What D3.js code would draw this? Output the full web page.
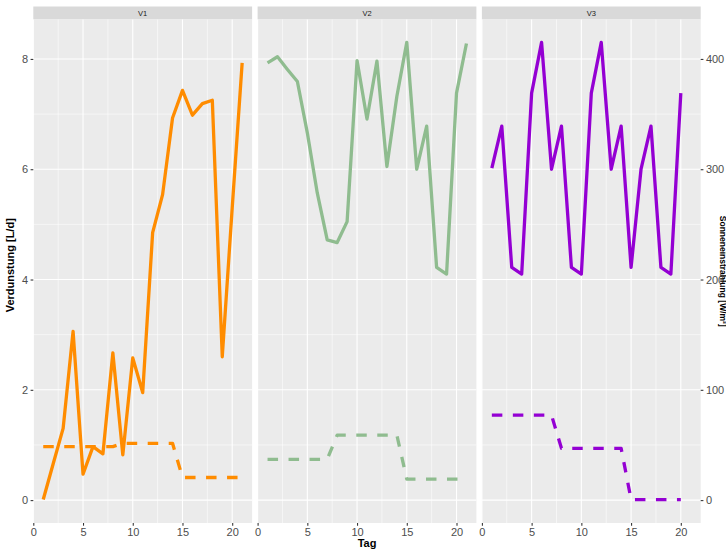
<!DOCTYPE html>
<html><head><meta charset="utf-8">
<script src="https://cdn.jsdelivr.net/npm/d3@7"></script>
<style>body{margin:0;background:#fff}svg{display:block}text{font-family:"Liberation Sans",Arial,sans-serif}</style>
</head><body>
<svg id="c" width="726" height="549"></svg>
<script>
const days = d3.range(1, 22);
const panels = ["V1", "V2", "V3"];
const colors = ["#FF8C00", "#8FBC8F", "#9400D3"];
// Verdunstung [L/d] (solid)
const v1Evap = [0.01, 0.66, 1.30, 3.06, 0.47, 0.97, 0.84, 2.67, 0.82, 2.58, 1.95, 4.85, 5.54, 6.93, 7.43, 6.98, 7.19, 7.25, 2.60, 5.30, 7.93];
const v2Evap = [7.93, 8.04, 7.81, 7.59, 6.66, 5.57, 4.72, 4.67, 5.05, 7.97, 6.91, 7.96, 6.05, 7.32, 8.30, 6.00, 6.78, 4.22, 4.10, 7.38, 8.28];
const v3Evap = [6.02, 6.78, 4.22, 4.10, 7.38, 8.30, 6.00, 6.78, 4.22, 4.10, 7.38, 8.30, 6.00, 6.78, 4.22, 6.00, 6.78, 4.22, 4.10, 7.38];
// Sonneneinstrahlung [W/m2] (dashed, secondary axis = primary * 50)
const v1Rad = [48.5, 48.5, 48.5, 48.5, 48.5, 48.5, 48.5, 48.5, 51.5, 51.5, 51.5, 51.5, 51.5, 51.5, 20.5, 20.5, 20.5, 20.5, 20.5, 20.5, 20.5];
const v2Rad = [37, 37, 37, 37, 37, 37, 37, 59, 59, 59, 59, 59, 59, 59, 19, 19, 19, 19, 19, 19, 19];
const v3Rad = [77, 77, 77, 77, 77, 77, 77, 47, 47, 47, 47, 47, 47, 47, 0.5, 0.5, 0.5, 0.5, 0.5, 0.5];
const xTicks = [0, 5, 10, 15, 20];
const yTicks = [0, 2, 4, 6, 8];
const y2Ticks = [0, 100, 200, 300, 400];
const secFactor = 50;

const evap = [v1Evap, v2Evap, v3Evap];
const rad = [v1Rad, v2Rad, v3Rad];

const svg = d3.select("#c");
const left = 33.3, right = 700.7, gap = 5.5;
const pw = (right - left - 2 * gap) / 3;
const stripTop = 6.5, panelTop = 19.5, panelBottom = 523;

const y = d3.scaleLinear().domain([-0.415, 8.715]).range([panelBottom, panelTop]);
const y2 = d3.scaleLinear().domain([-0.415 * secFactor, 8.715 * secFactor]).range([panelBottom, panelTop]);

function styleAxis(a) {
  a.select(".domain").remove();
  a.selectAll("line").attr("stroke", "#333333").attr("stroke-width", 1.07);
  a.selectAll("text").attr("font-size", 11).attr("fill", "#4D4D4D").attr("font-family", "Liberation Sans, Arial, sans-serif");
}

panels.forEach((name, i) => {
  const x0 = left + i * (pw + gap);
  const x = d3.scaleLinear().domain([0, 22]).range([x0, x0 + pw]);
  const g = svg.append("g");
  g.append("rect").attr("x", x0).attr("y", stripTop).attr("width", pw).attr("height", panelTop - stripTop).attr("fill", "#D9D9D9");
  g.append("text").attr("x", x0 + pw / 2).attr("y", stripTop + 9.5).attr("text-anchor", "middle")
    .attr("font-size", 7.5).attr("fill", "#1A1A1A").text(name);
  g.append("rect").attr("x", x0).attr("y", panelTop).attr("width", pw).attr("height", panelBottom - panelTop).attr("fill", "#EBEBEB");
  [1, 3, 5, 7].forEach(v => g.append("line").attr("x1", x0).attr("x2", x0 + pw).attr("y1", y(v)).attr("y2", y(v)).attr("stroke", "#fff").attr("stroke-width", 0.55));
  [2.5, 7.5, 12.5, 17.5].forEach(v => g.append("line").attr("x1", x(v)).attr("x2", x(v)).attr("y1", panelTop).attr("y2", panelBottom).attr("stroke", "#fff").attr("stroke-width", 0.55));
  yTicks.forEach(v => g.append("line").attr("x1", x0).attr("x2", x0 + pw).attr("y1", y(v)).attr("y2", y(v)).attr("stroke", "#fff").attr("stroke-width", 1.1));
  xTicks.forEach(v => g.append("line").attr("x1", x(v)).attr("x2", x(v)).attr("y1", panelTop).attr("y2", panelBottom).attr("stroke", "#fff").attr("stroke-width", 1.1));
  const lineEvap = d3.line().x((d, j) => x(days[j])).y(d => y(d));
  const lineRad = d3.line().x((d, j) => x(days[j])).y(d => y2(d));
  g.append("path").attr("d", lineEvap(evap[i])).attr("fill", "none").attr("stroke", colors[i]).attr("stroke-width", 3.3).attr("stroke-linejoin", "round");
  g.append("path").attr("d", lineRad(rad[i])).attr("fill", "none").attr("stroke", colors[i]).attr("stroke-width", 3.3).attr("stroke-dasharray", "10.5,10.5").attr("stroke-linejoin", "round");
  const ax = g.append("g").attr("transform", `translate(0,${panelBottom})`)
    .call(d3.axisBottom(x).tickValues(xTicks).tickSize(2.7).tickPadding(2.5));
  styleAxis(ax);
  if (i === 0) {
    const ay = g.append("g").attr("transform", `translate(${x0},0)`)
      .call(d3.axisLeft(y).tickValues(yTicks).tickSize(2.7).tickPadding(2.5));
    styleAxis(ay);
  }
  if (i === 2) {
    const ay2 = g.append("g").attr("transform", `translate(${x0 + pw},0)`)
      .call(d3.axisRight(y2).tickValues(y2Ticks).tickSize(2.7).tickPadding(2.5));
    styleAxis(ay2);
  }
});

svg.append("text").attr("x", (left + right) / 2).attr("y", 547).attr("text-anchor", "middle")
  .attr("font-size", 11).attr("font-weight", "bold").attr("fill", "#000").text("Tag");
svg.append("text").attr("transform", `translate(14,${(panelTop + panelBottom) / 2 - 6}) rotate(-90)`).attr("text-anchor", "middle")
  .attr("font-size", 11).attr("font-weight", "bold").attr("fill", "#000").text("Verdunstung [L/d]");
svg.append("text").attr("transform", `translate(719.5,${(panelTop + panelBottom) / 2}) rotate(90)`).attr("text-anchor", "middle")
  .attr("font-size", 8.5).attr("font-weight", "bold").attr("fill", "#000").text("Sonneneinstrahlung [W/m²]");
</script>
</body></html>
